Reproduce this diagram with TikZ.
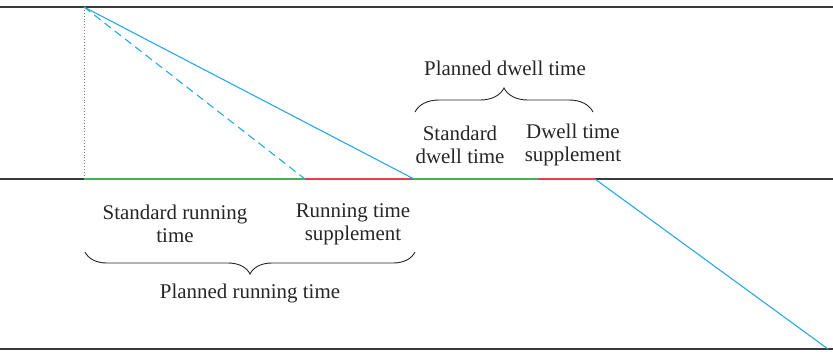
\documentclass[tikz,border=0pt]{standalone}
\usepackage{fontspec}
\setmainfont{Liberation Serif}
\usetikzlibrary{
  calc,
  decorations.pathreplacing
}
\definecolor{ttTrack}{HTML}{3A3A3A}
\definecolor{ttPath}{HTML}{29A9E0}
\definecolor{ttStd}{HTML}{4DAE5A}
\definecolor{ttSupp}{HTML}{E5404B}
\tikzset{
  trackline/.style={draw=ttTrack, line width=1.3bp},
  trainpath/.style={draw=ttPath, line width=1.1bp},
  stdpart/.style={draw=ttStd, line width=1.6bp},
  supppart/.style={draw=ttSupp, line width=1.6bp},
  guide/.style={draw=black!55, line width=0.9bp, dotted},
  lbl/.style={font=\fontsize{21}{23.5}\selectfont, align=center, inner sep=0pt, text=black!85},
  brace/.style={decorate, draw=black!85, line width=0.9bp, decoration={brace, amplitude=#1}}
}
\begin{document}
\begin{tikzpicture}[x=1bp, y=-1bp]
  \useasboundingbox (0,0) rectangle (833,353);
  % tracks
  \coordinate (t0) at (0,7);     \coordinate (t1) at (833,7);
  \coordinate (m0) at (0,179);   \coordinate (m1) at (833,179);
  \coordinate (b0) at (0,349);   \coordinate (b1) at (833,349);
  \draw[trackline] (t0) -- (t1);
  \draw[trackline] (m0) -- (m1);
  \draw[trackline] (b0) -- (b1);
  % points on the middle track
  \coordinate (dep) at (84,7);
  \coordinate (foot) at (84,177);
  \coordinate (ms) at (84,179);
  \coordinate (mr) at (305,179);
  \coordinate (arr) at (414,179);
  \coordinate (md) at (538,179);
  \coordinate (dep2) at (595,179);
  \coordinate (end) at (828,349);
  % time parts
  \draw[stdpart] (ms) -- (mr);
  \draw[supppart] (mr) -- (arr);
  \draw[stdpart] (arr) -- (md);
  \draw[supppart] (md) -- (dep2);
  % train paths
  \draw[guide] (dep) -- (foot);
  \draw[trainpath, dashed, dash pattern=on 8bp off 5bp] (dep) -- (mr);
  \draw[trainpath] (dep) -- (arr);
  \draw[trainpath] (dep2) -- (end);
  % dwell labels
  \draw[brace=24bp] (415,112) -- (593,112);
  \node[lbl] (pdwell) at (505,68) {Planned dwell time};
  \node[lbl] (sdwell) at (460,145) {Standard\\dwell time};
  \node[lbl] (dsupp) at (573,145) {Dwell time\\supplement};
  % running labels
  \node[lbl] (srun) at (175,224) {Standard running\\time};
  \node[lbl] (rsupp) at (353,224) {Running time\\supplement};
  \draw[brace=22bp] (415,252) -- (85,252);
  \node[lbl] (prun) at (250,293) {Planned running time};
\end{tikzpicture}
\end{document}
